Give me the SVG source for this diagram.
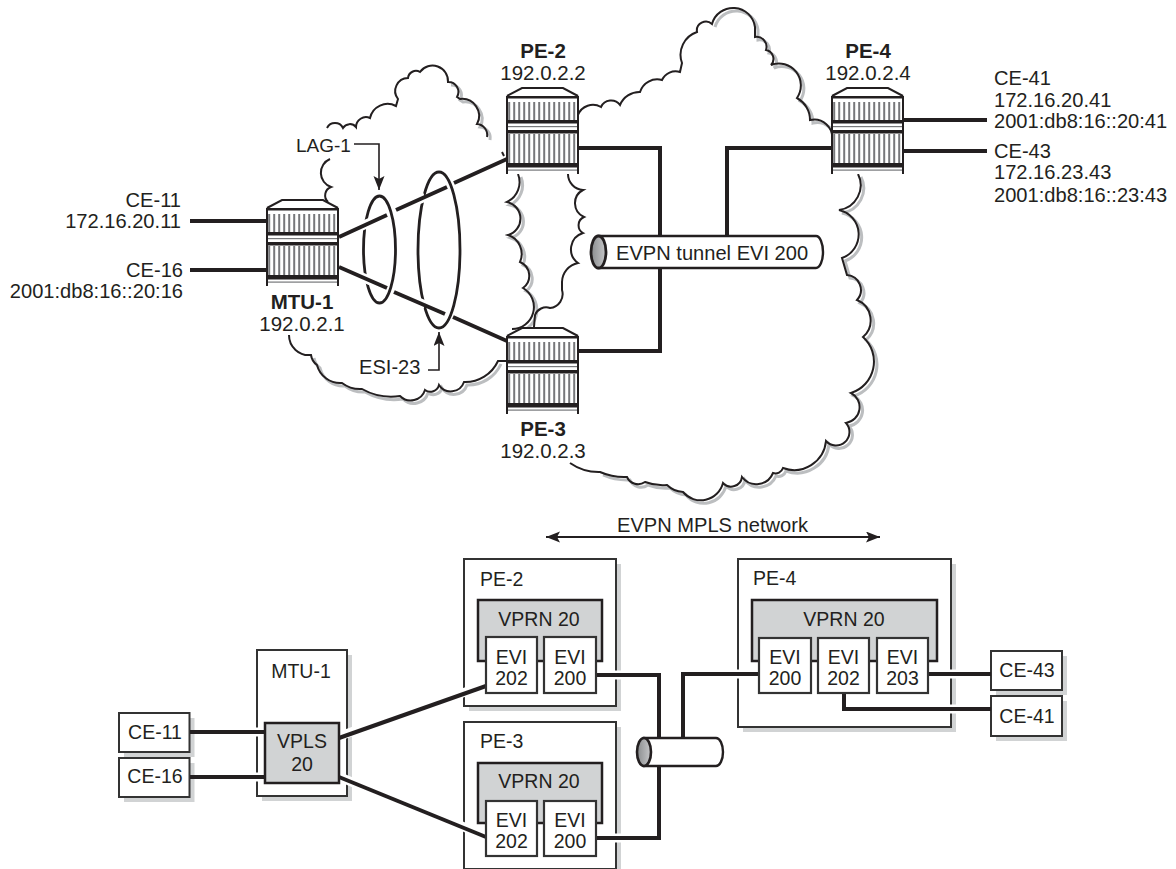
<svg xmlns="http://www.w3.org/2000/svg" width="1176" height="869" viewBox="0 0 1176 869">
<style>
text{font-family:"Liberation Sans",Arial,sans-serif;fill:#231f20;font-size:20.5px}
.b{font-weight:bold}
.m{text-anchor:middle}
.e{text-anchor:end}
.s{font-size:19.5px}
.c{font-size:20.1px}
.cloud{fill:none;stroke:#231f20;stroke-width:2}
.shade{fill:none;stroke:#bcbec0;stroke-width:3}
.sh{fill:#d1d3d4}
.box{fill:#fff;stroke:#333;stroke-width:2}
.vprn{fill:#d1d3d4;stroke:#231f20;stroke-width:2.5}
.evi{fill:#fff;stroke:#333;stroke-width:2.2}
.link{fill:none;stroke:#231f20;stroke-width:4}
.halo{fill:none;stroke:#fff;stroke-width:9}
.thin{fill:none;stroke:#231f20;stroke-width:1.6}
.ring{fill:none;stroke:#231f20;stroke-width:2.8}
.tube{fill:#fff;stroke:#231f20;stroke-width:2.4}
</style>
<defs>
<pattern id="slat" width="5" height="10" patternUnits="userSpaceOnUse">
<rect width="5" height="10" fill="#fff"/><rect x="1.2" width="2" height="10" fill="#77787b"/>
</pattern>
<linearGradient id="cap" x1="0" x2="1" y1="0" y2="0"><stop offset="0" stop-color="#8a8c8e"/><stop offset="1" stop-color="#c7c8ca"/></linearGradient>
<marker id="tip" markerUnits="userSpaceOnUse" markerWidth="16" markerHeight="12" refX="14" refY="5.5" orient="auto-start-reverse"><path d="M0,0 L14,5.5 L0,11 L3,5.5 Z" fill="#231f20"/></marker>
<g id="router">
<path d="M0,8 L15,0 H56 L71,8 V86 H0 Z" fill="#fff"/>
<path d="M0,8 L15,0 H56 L71,8" fill="none" stroke="#231f20" stroke-width="2"/>
<rect x="1" y="14" width="69" height="18" fill="url(#slat)"/>
<rect x="1" y="46" width="69" height="29" fill="url(#slat)"/>
<rect x="0" y="8" width="71" height="2.5" fill="#231f20"/>
<rect x="0" y="32" width="71" height="3.5" fill="#231f20"/>
<rect x="0" y="38" width="71" height="1.2" fill="#77787b"/>
<rect x="0" y="42" width="71" height="3.5" fill="#231f20"/>
<rect x="0" y="75" width="71" height="4.5" fill="#231f20"/>
<rect x="0" y="81.5" width="71" height="1.2" fill="#77787b"/>
<path d="M0,8 V86 M71,8 V86" fill="none" stroke="#231f20" stroke-width="2"/>
</g>
</defs>

<g id="clouds">
<path class="shade" transform="translate(3,3)" d="M448,82 A10,10 0 0 1 457,97 L460,99 A17,17 0 0 1 477,124 A11,11 0 0 1 487,137"/>
<path class="shade" transform="translate(3,3)" d="M311,355 A15,15 0 0 0 317,365 A24,24 0 0 0 342,383 A30,30 0 0 0 362,389 A60,60 0 0 0 400,396 A15,15 0 0 0 425,390 A9,9 0 0 0 439,385 A14,14 0 0 0 464,382 A36,36 0 0 0 498,361"/>
<path class="shade" transform="translate(3,3)" d="M518,174 A22,22 0 0 1 507,202 A17,17 0 0 1 508,235 A20,20 0 0 1 520,262 A15,15 0 0 1 523,288 A22,22 0 0 1 512,329"/>
<path class="shade" transform="translate(3,3)" d="M712,24 A22,22 0 0 1 755,27 L755,37 A10,10 0 0 1 766,50 A9,9 0 0 1 771,65 A22,22 0 0 1 797,98 A25,25 0 0 1 810,120 A18,18 0 0 1 832,140"/>
<path class="shade" transform="translate(3,3)" d="M858,174 A25,25 0 0 1 839,210 A25,25 0 0 1 842,258 L847,275 A15,15 0 0 1 857,300 A22,22 0 0 1 863,337 A33,33 0 0 1 851,393 A16,16 0 0 1 846,423 A13,13 0 0 1 826,441 A32,32 0 0 1 783,468 A8,8 0 0 1 773,473 A18,18 0 0 1 742,477 A11,11 0 0 1 723,483 A23,23 0 0 1 683,492 A25,25 0 0 1 667,485 A50,50 0 0 1 645,482 A12,12 0 0 1 627,477 A60,60 0 0 1 600,472"/>
<path class="cloud" d="M327,128 A9,9 0 0 1 343,128 A8,8 0 0 1 356,127 A10,10 0 0 1 370,118 A18,18 0 0 1 396,106 L398,99 A13,13 0 0 1 408,78 A8,8 0 0 1 420,72 A15.500,15.500 0 0 1 448,82 A10,10 0 0 1 457,97 L460,99 A17,17 0 0 1 477,124 A11,11 0 0 1 487,137"/>
<path class="cloud" d="M330,159 A15,15 0 0 0 331,187 A9,9 0 0 0 328,202"/>
<path class="cloud" d="M289,335 A20,20 0 0 0 311,355 A15,15 0 0 0 317,365 A24,24 0 0 0 342,383 A30,30 0 0 0 362,389 A60,60 0 0 0 400,396 A15,15 0 0 0 425,390 A9,9 0 0 0 439,385 A14,14 0 0 0 464,382 A36,36 0 0 0 498,361 L507,361"/>
<path class="cloud" d="M518,174 A22,22 0 0 1 507,202 A17,17 0 0 1 508,235 A20,20 0 0 1 520,262 A15,15 0 0 1 523,288 A22,22 0 0 1 512,329"/>
<path class="cloud" d="M568,174 A16,16 0 0 0 583,190 A15,15 0 0 0 584,217 A9,9 0 0 0 583,233 A17,17 0 0 0 578,263 A20,20 0 0 0 562,282 L562,290 A14,14 0 0 1 550,308 A12,12 0 0 0 535,315 L534,327"/>
<path class="cloud" d="M578,115 A16,16 0 0 1 601,107 A11,11 0 0 1 620,105 A21,21 0 0 1 640,92 A18,18 0 0 1 662,80 A15,15 0 0 1 680,72 L682,63 A24,24 0 0 1 697,32 A9,9 0 0 1 712,24 A22,22 0 0 1 755,27 L755,37 A10,10 0 0 1 766,50 A9,9 0 0 1 771,65 A22,22 0 0 1 797,98 A25,25 0 0 1 810,120 A18,18 0 0 1 832,140"/>
<path class="cloud" d="M858,174 A25,25 0 0 1 839,210 A25,25 0 0 1 842,258 L847,275 A15,15 0 0 1 857,300 A22,22 0 0 1 863,337 A33,33 0 0 1 851,393 A16,16 0 0 1 846,423 A13,13 0 0 1 826,441 A32,32 0 0 1 783,468 A8,8 0 0 1 773,473 A18,18 0 0 1 742,477 A11,11 0 0 1 723,483 A23,23 0 0 1 683,492 A25,25 0 0 1 667,485 A50,50 0 0 1 645,482 A12,12 0 0 1 627,477 A60,60 0 0 1 600,472 A50,50 0 0 1 570,463"/>
<path class="cloud" d="M502,152 L504,156"/>
</g>

<g id="lag-1"><ellipse class="ring" cx="379.500" cy="249.500" rx="16" ry="53.500"/></g>
<g id="esi-23"><ellipse class="ring" cx="439" cy="250" rx="21" ry="78"/></g>

<g id="node-mtu-1-top"><use href="#router" x="267" y="200"/>
<text class="b m" x="302" y="309">MTU-1</text><text class="m" x="302" y="331">192.0.2.1</text></g>
<g id="node-pe-2-top"><use href="#router" x="507" y="88"/>
<text class="b m" x="543" y="58">PE-2</text><text class="m" x="543" y="80">192.0.2.2</text></g>
<g id="node-pe-3-top"><use href="#router" x="507" y="328"/>
<text class="b m" x="543" y="436">PE-3</text><text class="m" x="543" y="458">192.0.2.3</text></g>
<g id="node-pe-4-top"><use href="#router" x="832" y="88"/>
<text class="b m" x="868" y="58">PE-4</text><text class="m" x="868" y="80">192.0.2.4</text></g>

<g id="ce-labels-top">
<text class="e c" x="181" y="207">CE-11</text><text class="e c" x="181" y="228">172.16.20.11</text>
<text class="e c" x="183" y="277">CE-16</text><text class="e c" x="183" y="298">2001:db8:16::20:16</text>
<text class="c" x="994" y="85">CE-41</text><text class="c" x="994" y="107">172.16.20.41</text><text class="c" x="994" y="128">2001:db8:16::20:41</text>
<text class="c" x="994" y="158">CE-43</text><text class="c" x="994" y="179">172.16.23.43</text><text class="c" x="994" y="202">2001:db8:16::23:43</text>
<text x="296" y="152" style="font-size:19px">LAG-1</text><text class="c" x="359" y="374">ESI-23</text>
<text class="c" x="617" y="532">EVPN MPLS network</text>
</g>

<g id="pe-2"><rect class="sh" x="469" y="564" width="152" height="147"/><rect class="box" x="464" y="559" width="152" height="147"/>
<text class="s" x="480" y="586">PE-2</text>
<rect class="vprn" x="478" y="600" width="124" height="61"/><text class="s m" x="539" y="626">VPRN 20</text></g>
<g id="pe-3"><rect class="sh" x="469" y="727" width="152" height="147"/><rect class="box" x="464" y="722" width="152" height="147"/>
<text class="s" x="480" y="748">PE-3</text>
<rect class="vprn" x="478" y="763" width="124" height="60"/><text class="s m" x="539" y="788">VPRN 20</text></g>
<g id="pe-4"><rect class="sh" x="743" y="564" width="213" height="168"/><rect class="box" x="738" y="559" width="213" height="168"/>
<text class="s" x="753" y="585">PE-4</text>
<rect class="vprn" x="752" y="600" width="185" height="61"/><text class="s m" x="844" y="626">VPRN 20</text></g>
<g id="mtu-1"><rect class="sh" x="262" y="655" width="90" height="146"/><rect class="box" x="257" y="650" width="90" height="146"/>
<text class="s m" x="301" y="678">MTU-1</text></g>
<g id="ce-11"><rect class="sh" x="124" y="718" width="70.500" height="39"/><rect class="box" x="119" y="713" width="70.500" height="39"/><text class="s m" x="155" y="739">CE-11</text></g>
<g id="ce-16"><rect class="sh" x="124" y="763" width="70.500" height="39"/><rect class="box" x="119" y="758" width="70.500" height="39"/><text class="s m" x="155" y="783">CE-16</text></g>
<g id="ce-43"><rect class="sh" x="996" y="656" width="71" height="39"/><rect class="box" x="991" y="651" width="71" height="39"/><text class="s m" x="1027" y="677">CE-43</text></g>
<g id="ce-41"><rect class="sh" x="996" y="701" width="71" height="40"/><rect class="box" x="991" y="696" width="71" height="40"/><text class="s m" x="1027" y="723">CE-41</text></g>

<g id="connectors">
<path class="halo" d="M357,228 L371,222 M411,203 L425,197 M357,275 L371,281 M411,299 L425,305"/>
<path class="link" d="M339,237 L387,215 M396,210 L447,187 M454,183 L507,159"/>
<path class="link" d="M339,267 L387,288 M394,292 L445,314 M453,317 L507,341"/>
<path class="link" d="M190,221 H267 M190,270 H267"/>
<path class="link" d="M903,120 H987 M903,151 H987"/>
<path class="link" d="M578,148 H660 V351 H578"/>
<path class="link" d="M832,148 H727 V236"/>
<path class="thin" d="M354,144 H379 V190" marker-end="url(#tip)"/>
<path class="thin" d="M428,370 H439 V332" marker-end="url(#tip)"/>
<path class="thin" style="stroke-width:2.2" d="M546,537 H880" marker-start="url(#tip)" marker-end="url(#tip)"/>
<path class="halo" d="M609,675 H623 M609,838 H623 M731,674 H745 M944,674 H958 M944,709 H958 M250,732 H264 M250,777 H264 M340,736 L354,731 M457,695 L471,690 M340,777 L354,783 M457,824 L471,830"/>
<path class="link" d="M596,675 H659 V838 H596"/>
<path class="link" d="M759,674 H683 V738"/>
<path class="link" d="M928,674 H991"/>
<path class="link" d="M844,693 V709 H991"/>
<path class="link" d="M190,732 H265 M190,777 H265"/>
<path class="link" d="M339,738 L486,686"/>
<path class="link" d="M339,777 L486,837"/>
</g>

<g id="tunnel-top"><path class="tube" d="M598.500,236 H816 A7,16 0 0 1 816,268 H598.500 Z"/>
<ellipse cx="598.500" cy="252" rx="7.500" ry="16" fill="url(#cap)" stroke="#231f20" stroke-width="2.800"/>
<text class="c" x="616" y="260">EVPN tunnel EVI 200</text></g>
<g id="tunnel-bottom"><path class="tube" d="M644,738 H716 A7,14 0 0 1 716,766 H644 Z"/>
<ellipse cx="644" cy="752" rx="7" ry="14" fill="url(#cap)" stroke="#231f20" stroke-width="2.600"/></g>

<g id="pe-2-evi-202"><rect class="evi" x="486" y="637" width="51" height="56"/><text class="s m" x="511.500" y="664">EVI</text><text class="s m" x="511.500" y="685">202</text></g>
<g id="pe-2-evi-200"><rect class="evi" x="544" y="637" width="52" height="56"/><text class="s m" x="570" y="664">EVI</text><text class="s m" x="570" y="685">200</text></g>
<g id="pe-3-evi-202"><rect class="evi" x="486" y="801" width="51" height="55"/><text class="s m" x="511.500" y="827">EVI</text><text class="s m" x="511.500" y="848">202</text></g>
<g id="pe-3-evi-200"><rect class="evi" x="544" y="801" width="52" height="55"/><text class="s m" x="570" y="827">EVI</text><text class="s m" x="570" y="848">200</text></g>
<g id="pe-4-evi-200"><rect class="evi" x="759" y="638" width="52" height="55"/><text class="s m" x="785" y="664">EVI</text><text class="s m" x="785" y="685">200</text></g>
<g id="pe-4-evi-202"><rect class="evi" x="818" y="638" width="51" height="55"/><text class="s m" x="843.500" y="664">EVI</text><text class="s m" x="843.500" y="685">202</text></g>
<g id="pe-4-evi-203"><rect class="evi" x="877" y="638" width="51" height="55"/><text class="s m" x="902.500" y="664">EVI</text><text class="s m" x="902.500" y="685">203</text></g>
<g id="vpls-20"><rect class="vprn" x="265" y="723" width="74" height="60"/><text class="s m" x="302" y="748">VPLS</text><text class="s m" x="302" y="771">20</text></g>
</svg>
